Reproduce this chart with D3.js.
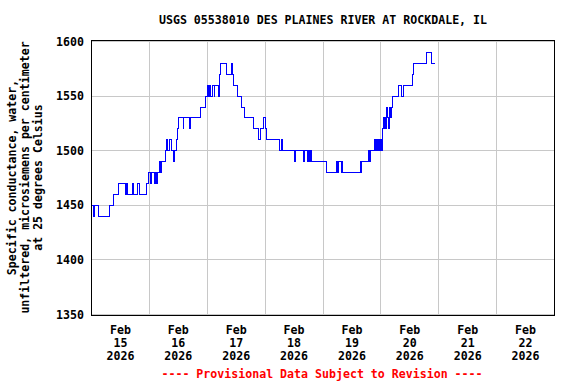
<!DOCTYPE html>
<html><head><meta charset="utf-8">
<script src="https://cdn.jsdelivr.net/npm/d3@7"></script>
<style>
body{margin:0;background:#fff}
svg{display:block}
text{font-family:"DejaVu Sans Mono","Liberation Mono",monospace;font-weight:bold;font-size:11.6px;fill:#000}
</style>
</head><body>
<svg id="c" width="576" height="384"></svg>
<script>
const title = "USGS 05538010 DES PLAINES RIVER AT ROCKDALE, IL";
const yLabelLines = ["Specific conductance, water,", "unfiltered, microsiemens per centimeter", "at 25 degrees Celsius"];
const footer = "---- Provisional Data Subject to Revision ----";
const yTicks = [1350, 1400, 1450, 1500, 1550, 1600];
const dayTicks = ["2026-02-15","2026-02-16","2026-02-17","2026-02-18","2026-02-19","2026-02-20","2026-02-21","2026-02-22"];
const startTime = "2026-02-15T00:00:00Z";
const endTime = "2026-02-23T00:00:00Z";
// hours after Feb 15 00:00 at which the reading changes, and the reading
const readingHours = [0,0.1,0.8,1.1,2.9,7.3,9.1,11.1,14.3,14.6,15.0,16.9,17.4,19.2,20.0,23.0,23.5,24.5,24.8,26.0,26.5,26.8,27.4,28.1,28.7,29.0,30.5,31.3,31.7,32.4,33.0,34.1,34.5,35.2,35.5,35.9,38.0,38.3,40.5,41.0,45.2,47.4,48.3,48.6,49.0,49.3,50.0,50.8,51.1,52.5,53.2,53.6,56.0,58.1,58.4,58.7,60.4,62.3,63.3,67.1,69.4,70.2,71.5,72.2,72.6,78.1,78.7,79.0,84.0,84.4,87.8,88.0,88.2,88.5,89.5,89.8,90.2,91.0,91.3,97.5,101.6,102.0,102.3,103.6,103.9,104.2,111.4,111.7,112.1,114.9,115.3,115.7,117.2,117.6,118.0,118.5,118.9,119.4,119.7,120.1,120.5,120.8,121.1,121.4,121.7,122.0,122.5,122.8,123.2,123.4,123.6,124.0,124.3,125.0,127.3,128.7,129.4,133.3,133.6,138.8,141.2,142.6];
const readingValues = [1440,1450,1440,1450,1440,1450,1460,1470,1460,1470,1460,1470,1460,1470,1460,1470,1480,1470,1480,1470,1480,1470,1480,1490,1480,1490,1500,1510,1500,1510,1500,1490,1500,1510,1520,1530,1520,1530,1520,1530,1540,1550,1560,1550,1560,1550,1560,1550,1560,1550,1570,1580,1570,1580,1570,1560,1550,1540,1530,1520,1510,1520,1530,1520,1510,1500,1510,1500,1490,1500,1490,1500,1490,1500,1490,1500,1490,1500,1490,1480,1490,1480,1490,1480,1490,1480,1490,1480,1490,1500,1490,1500,1510,1500,1510,1500,1510,1500,1510,1500,1510,1520,1530,1520,1530,1520,1540,1530,1520,1530,1540,1530,1540,1550,1560,1550,1560,1570,1580,1590,1580,1580];

const svg = d3.select("#c");
const t0 = new Date(startTime);
const x = d3.scaleUtc().domain([t0, new Date(endTime)]).range([91.5, 554.5]);
const y = d3.scaleLinear().domain([1350, 1600]).range([314.5, 41.5]);
const snap = v => Math.floor(v) + 0.5;

svg.append("rect").attr("width", 576).attr("height", 384).attr("fill", "#fff");

// grid
const g = svg.append("g").attr("stroke", "#c8c8c8").attr("stroke-width", 1).attr("shape-rendering", "crispEdges");
g.selectAll("line.h").data(yTicks).join("line").attr("class","h")
  .attr("x1", 92).attr("x2", 554).attr("y1", d => snap(y(d))).attr("y2", d => snap(y(d)));
g.selectAll("line.v").data(dayTicks.slice(1)).join("line").attr("class","v")
  .attr("x1", d => snap(x(new Date(d + "T00:00:00Z")))).attr("x2", d => snap(x(new Date(d + "T00:00:00Z"))))
  .attr("y1", 41).attr("y2", 315);

// data line
const data = readingHours.map((h, i) => ({t: new Date(t0.getTime() + h * 3600e3), v: readingValues[i]}));
const line = d3.line().x(d => x(d.t)).y(d => y(d.v)).curve(d3.curveStepAfter);
svg.append("path").datum(data).attr("d", line).attr("fill", "none")
  .attr("stroke", "#0000ff").attr("stroke-width", 1).attr("shape-rendering", "crispEdges");

// frame
svg.append("rect").attr("x", 91.5).attr("y", 40.5).attr("width", 463).attr("height", 275)
  .attr("fill", "none").attr("stroke", "#000").attr("stroke-width", 1).attr("shape-rendering", "crispEdges");

// y tick labels
svg.selectAll("text.yt").data(yTicks).join("text").attr("class","yt")
  .attr("x", 84).attr("y", d => y(d) + 4).attr("text-anchor", "end").text(d => d);

// x tick labels
const fmtM = d3.utcFormat("%b"), fmtD = d3.utcFormat("%d"), fmtY = d3.utcFormat("%Y");
const xl = svg.selectAll("g.xt").data(dayTicks).join("g").attr("class","xt");
xl.each(function(d) {
  const day = new Date(d + "T00:00:00Z");
  const cx = x(new Date(day.getTime() + 12 * 3600e3));
  const sel = d3.select(this);
  [fmtM(day), fmtD(day), fmtY(day)].forEach((s, i) => {
    sel.append("text").attr("x", cx).attr("y", 334 + i * 13).attr("text-anchor", "middle").text(s);
  });
});

// title
svg.append("text").attr("x", 323).attr("y", 24).attr("text-anchor", "middle").text(title);

// y label
const yl = svg.append("g").attr("transform", "translate(0,177.5) rotate(-90)");
yLabelLines.forEach((s, i) => {
  yl.append("text").attr("x", 0).attr("y", 16 + i * 13).attr("text-anchor", "middle").text(s);
});

// footer
svg.append("text").attr("x", 322).attr("y", 378).attr("text-anchor", "middle").style("fill", "#ff0000").text(footer);
</script>
</body></html>
